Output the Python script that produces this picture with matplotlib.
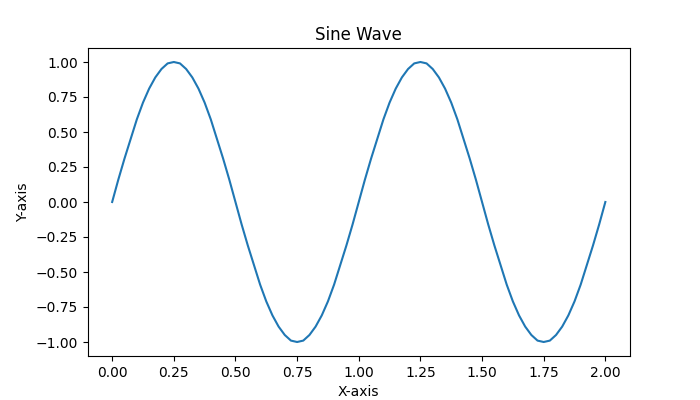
import matplotlib
matplotlib.use('Agg')
import matplotlib.pyplot as plt

# x positions read along the time axis, step of 0.025
x_vals = [i * 0.025 for i in range(81)]

# amplitude at each x position (two full periods)
y_vals = [0.00, 0.16, 0.31, 0.45, 0.59, 0.71, 0.81, 0.89, 0.95, 0.99,
          1.00, 0.99, 0.95, 0.89, 0.81, 0.71, 0.59, 0.45, 0.31, 0.16,
          0.00, -0.16, -0.31, -0.45, -0.59, -0.71, -0.81, -0.89, -0.95, -0.99,
          -1.00, -0.99, -0.95, -0.89, -0.81, -0.71, -0.59, -0.45, -0.31, -0.16,
          0.00, 0.16, 0.31, 0.45, 0.59, 0.71, 0.81, 0.89, 0.95, 0.99,
          1.00, 0.99, 0.95, 0.89, 0.81, 0.71, 0.59, 0.45, 0.31, 0.16,
          0.00, -0.16, -0.31, -0.45, -0.59, -0.71, -0.81, -0.89, -0.95, -0.99,
          -1.00, -0.99, -0.95, -0.89, -0.81, -0.71, -0.59, -0.45, -0.31, -0.16,
          0.00]

fig, ax = plt.subplots(figsize=(7, 4), dpi=100)
ax.plot(x_vals, y_vals, color='#1f77b4')
ax.set_title('Sine Wave')
ax.set_xlabel('X-axis')
ax.set_ylabel('Y-axis')
fig.savefig('out.png')
